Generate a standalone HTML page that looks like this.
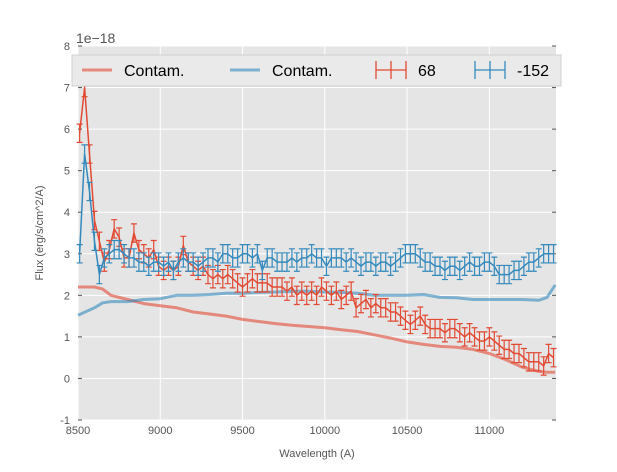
<!DOCTYPE html>
<html><head><meta charset="utf-8"><style>
body{margin:0;background:#fff;width:617px;height:467px;overflow:hidden}
svg{font-family:"Liberation Sans",sans-serif}
</style></head><body>
<svg id="chart" width="617" height="467" xmlns="http://www.w3.org/2000/svg"></svg>
<script>
const wave=[8510,8540,8570,8600,8630,8660,8690,8720,8750,8780,8810,8840,8870,8900,8930,8960,8990,9020,9050,9080,9110,9140,9170,9200,9230,9260,9290,9320,9350,9380,9410,9440,9470,9500,9530,9560,9590,9620,9650,9680,9710,9740,9770,9800,9830,9860,9890,9920,9950,9980,10010,10040,10070,10100,10130,10160,10190,10220,10250,10280,10310,10340,10370,10400,10430,10460,10490,10520,10550,10580,10610,10640,10670,10700,10730,10760,10790,10820,10850,10880,10910,10940,10970,11000,11030,11060,11090,11120,11150,11180,11210,11240,11270,11300,11330,11360,11390];
const flux68=[5.9,7.0,5.4,3.8,3.3,2.8,3.1,3.6,3.4,2.9,2.9,3.5,3.1,3.0,2.9,3.1,2.7,2.6,2.7,2.6,2.7,3.2,2.8,2.7,2.6,2.7,2.5,2.4,2.5,2.4,2.5,2.4,2.3,2.2,2.3,2.4,2.3,2.3,2.3,2.2,2.2,2.2,2.1,2.2,2.0,2.1,2.0,2.1,2.0,2.2,2.1,2.0,2.1,1.9,2.0,2.1,1.7,1.8,1.9,1.7,1.8,1.7,1.7,1.6,1.6,1.5,1.4,1.3,1.4,1.5,1.3,1.2,1.2,1.2,1.1,1.2,1.2,1.1,1.0,1.1,1.0,0.9,0.9,1.0,0.9,0.8,0.7,0.7,0.6,0.6,0.5,0.4,0.4,0.4,0.3,0.6,0.5];
const flux152=[3.0,5.4,4.5,3.3,2.5,2.9,3.0,3.1,3.1,3.0,2.9,2.9,2.8,2.8,2.7,2.8,2.8,2.7,2.8,2.6,2.8,2.9,2.8,2.8,2.7,2.8,2.9,2.9,2.8,3.0,3.0,2.9,2.9,3.0,3.0,2.9,3.0,2.6,2.9,2.9,2.8,2.8,2.8,2.9,2.8,2.9,2.9,3.0,2.9,2.9,2.7,2.9,2.9,2.9,2.8,2.9,2.8,2.7,2.8,2.8,2.7,2.8,2.8,2.7,2.8,2.9,3.0,3.0,3.0,2.9,2.8,2.8,2.7,2.7,2.6,2.7,2.7,2.6,2.7,2.8,2.7,2.7,2.8,2.8,2.7,2.5,2.5,2.5,2.6,2.6,2.7,2.8,2.8,2.9,3.0,3.0,3.0];
const errBar=0.22;
const contWave=[8500,8600,8650,8700,8800,8900,9000,9100,9200,9300,9400,9500,9600,9700,9800,9900,10000,10100,10200,10300,10400,10500,10600,10700,10800,10900,11000,11100,11200,11300,11350,11400];
const contam68=[2.2,2.2,2.15,2.0,1.9,1.8,1.75,1.7,1.6,1.55,1.5,1.42,1.37,1.32,1.28,1.25,1.22,1.17,1.13,1.05,0.97,0.88,0.82,0.77,0.75,0.7,0.6,0.45,0.27,0.17,0.15,0.15];
const contam152=[1.52,1.7,1.82,1.85,1.85,1.9,1.92,2.0,2.0,2.02,2.05,2.05,2.07,2.08,2.1,2.1,2.08,2.07,2.05,2.0,2.0,2.0,2.02,1.95,1.94,1.9,1.9,1.9,1.9,1.88,1.95,2.25];
const xTicks=[8500,9000,9500,10000,10500,11000];
const yTicks=[-1,0,1,2,3,4,5,6,7,8];

const NS="http://www.w3.org/2000/svg";
const svg=document.getElementById('chart');
const L=78,R=556,T=46,B=420,X0=8500,X1=11405,Y0=-1,Y1=8;
const sx=v=>L+(v-X0)/(X1-X0)*(R-L);
const sy=v=>B-(v-Y0)/(Y1-Y0)*(B-T);
function mk(tag,attrs,parent){const e=document.createElementNS(NS,tag);for(const k in attrs)e.setAttribute(k,attrs[k]);(parent||svg).appendChild(e);return e;}

const bg=mk('rect',{x:L,y:T,width:R-L,height:B-T,fill:'#e5e5e5'});


xTicks.forEach(t=>{
  const g=mk('line',{x1:sx(t),x2:sx(t),y1:T,y2:B,stroke:'#fff','stroke-width':1});
  
  
  const lb=mk('text',{x:sx(t),y:B+14,'text-anchor':'middle','font-size':11,fill:'#555'});
  lb.textContent=t;
  
  
});
yTicks.forEach(t=>{
  const g=mk('line',{x1:L,x2:R,y1:sy(t),y2:sy(t),stroke:'#fff','stroke-width':1});
  
  
  mk('line',{x1:L,x2:L+4,y1:sy(t),y2:sy(t),stroke:'#555'});
  mk('line',{x1:R-4,x2:R,y1:sy(t),y2:sy(t),stroke:'#555'});
  const lb=mk('text',{x:L-8,y:sy(t)+4,'text-anchor':'end','font-size':11,fill:'#555'});
  lb.textContent=t;
  
  
});
function line(xs,ys,color,w,op,name){
  const d=xs.map((x,i)=>(i?'L':'M')+sx(x).toFixed(1)+','+sy(ys[i]).toFixed(1)).join('');
  const p=mk('path',{d:d,fill:'none',stroke:color,'stroke-width':w,'stroke-opacity':op,'stroke-linejoin':'round'});
  
  
}
line(contWave,contam68,'#E24A33',3,0.6,'contam-line-68');
line(contWave,contam152,'#348ABD',3,0.6,'contam-line-152');
function errSeries(ys,color,name){
  line(wave,ys,color,1.5,1,name+'-line');
  wave.forEach((x,i)=>{
    const cx=sx(x),y1=sy(ys[i]-errBar),y2=sy(ys[i]+errBar);
    const g=mk('path',{d:`M${cx},${y1}L${cx},${y2}M${cx-3},${y1}L${cx+3},${y1}M${cx-3},${y2}L${cx+3},${y2}`,stroke:color,'stroke-width':1.2,fill:'none'});
    
    
  });
}
errSeries(flux68,'#E24A33','series-68');
errSeries(flux152,'#348ABD','series-152');

const ex=mk('text',{x:76,y:43,'font-size':14,fill:'#555'});ex.textContent='1e\u221218';


const xl=mk('text',{x:(L+R)/2,y:457,'text-anchor':'middle','font-size':11,fill:'#555'});xl.textContent='Wavelength (A)';


const yl=mk('text',{x:0,y:0,'text-anchor':'middle','font-size':11,fill:'#555',transform:`translate(43,${(T+B)/2}) rotate(-90)`});yl.textContent='Flux (erg/s/cm^2/A)';



const lg=mk('g',{});


mk('rect',{x:72,y:55,width:489,height:31,fill:'#eaeaea',stroke:'#d0d0d0','stroke-width':1},lg);
const items=[['Contam.','#E24A33','line',82,124],['Contam.','#348ABD','line',230,272],['68','#E24A33','err',376,418],['-152','#348ABD','err',475,517]];
items.forEach(it=>{
  const [lab,c,type,x,tx]=it;const y=70;
  if(type==='line'){mk('line',{x1:x,x2:x+30,y1:y,y2:y,stroke:c,'stroke-width':3,'stroke-opacity':0.6},lg);}
  else{mk('path',{d:`M${x},${y}L${x+30},${y}M${x},${y-9}L${x},${y+9}M${x+30},${y-9}L${x+30},${y+9}M${x+15},${y-9}L${x+15},${y+9}`,stroke:c,'stroke-width':1.3,fill:'none'},lg);}
  const t=mk('text',{x:tx,y:y+6,'font-size':16,fill:'#000'},lg);t.textContent=lab;
  
  
});
</script>
</body></html>
